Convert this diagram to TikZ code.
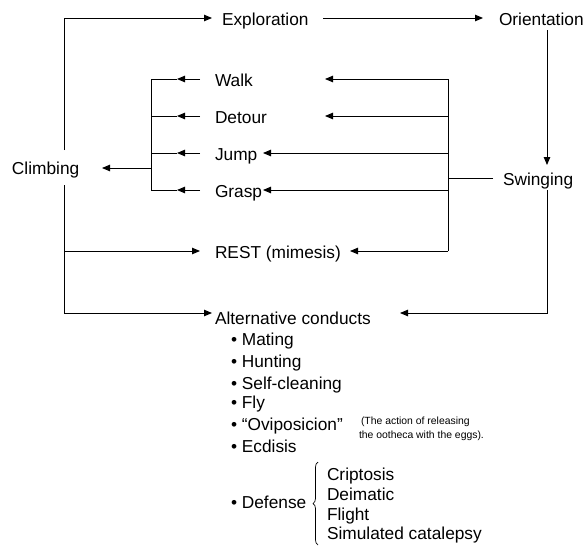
\documentclass[tikz,border=0pt]{standalone}
\usepackage{fontspec}
\setmainfont{Liberation Sans}
\usetikzlibrary{arrows.meta,decorations.pathreplacing}
\begin{document}
\begin{tikzpicture}[x=1pt,y=-1pt,line width=0.9pt,
  txt/.style={anchor=base west,inner sep=0pt,outer sep=0pt,font=\fontsize{17.3}{20}\selectfont},
  small/.style={anchor=base west,inner sep=0pt,outer sep=0pt,font=\fontsize{10.4}{12}\selectfont},
  arr/.style={-{Triangle[length=8pt,width=6.5pt]}}]
\useasboundingbox (0,0) rectangle (585,546);
% main nodes
\node[txt] (expl) at (222,25) {Exploration};
\node[txt] (orient) at (499,25) {Orientation};
\node[txt] (walk) at (215,86) {Walk};
\node[txt] (detour) at (215,123) {Detour};
\node[txt] (jump) at (215,160) {Jump};
\node[txt] (grasp) at (215,197) {Grasp};
\node[txt] (climb) at (12,174) {Climbing};
\node[txt] (swing) at (503,185) {Swinging};
\node[txt] (rest) at (215,258) {REST (mimesis)};
\node[txt] (alt) at (215,324) {Alternative conducts};
% list
\node[txt] (mating) at (231,345) {• Mating};
\node[txt] (hunting) at (231,367) {• Hunting};
\node[txt] (selfc) at (231,389) {• Self-cleaning};
\node[txt] (fly) at (231,408) {• Fly};
\node[txt] (ovi) at (231,430) {• “Oviposicion”};
\node[txt] (ecd) at (231,452) {• Ecdisis};
\node[txt] (def) at (231,508) {• Defense};
\node[small] (note1) at (361,424) {(The action of releasing};
\node[small] (note2) at (359,438) {the ootheca with the eggs).};
\node[txt] (cri) at (327,480) {Criptosis};
\node[txt] (dei) at (327,500) {Deimatic};
\node[txt] (fli) at (327,520) {Flight};
\node[txt] (sim) at (327,539) {Simulated catalepsy};
% junction coordinates
\coordinate (lt) at (64,150);
\coordinate (lb) at (64,185);
\coordinate (exIn) at (212,18);
\coordinate (exOut) at (323,18);
\coordinate (orIn) at (483,18);
\coordinate (orOut) at (547,30);
\coordinate (swIn) at (547,165);
\coordinate (swOut) at (547,190);
\coordinate (swL) at (493,178);
\coordinate (rvT) at (448,79);
\coordinate (rvB) at (448,251);
\coordinate (rvS) at (448,178);
\coordinate (lvT) at (151,79);
\coordinate (lvB) at (151,190);
\coordinate (lvC) at (151,168);
\coordinate (clIn) at (102,168);
\coordinate (altL) at (212,313);
\coordinate (altR) at (400,313);
\coordinate (restL) at (200,251);
\coordinate (restR) at (350,251);
% top chain
\draw[arr] (lt) |- (exIn);
\draw[arr] (exOut) -- (orIn);
\draw[arr] (orOut) -- (swIn);
% right bracket
\draw (swL) -- (rvS);
\draw (rvT) -- (rvB);
\draw[arr] (rvT) -- (325,79);
\draw[arr] (448,116) -- (325,116);
\draw[arr] (448,153) -- (263,153);
\draw[arr] (448,190) -- (263,190);
\draw[arr] (rvB) -- (restR);
% left bracket
\foreach \yy in {79,116,153,190} {
  \draw[arr] (200,\yy) -- (177,\yy);
  \draw (177,\yy) -- (151,\yy);
}
\draw (lvT) -- (lvB);
\draw[arr] (lvC) -- (clIn);
% left vertical lower
\draw (lb) -- (64,251);
\draw[arr] (64,251) -- (restL);
\draw[arr] (64,251) |- (altL);
% right to alternatives
\draw[arr] (swOut) |- (altR);
% brace
\draw[line width=0.7pt,decorate,decoration={brace,amplitude=5pt}] (318,545) -- (318,462);
\end{tikzpicture}
\end{document}
